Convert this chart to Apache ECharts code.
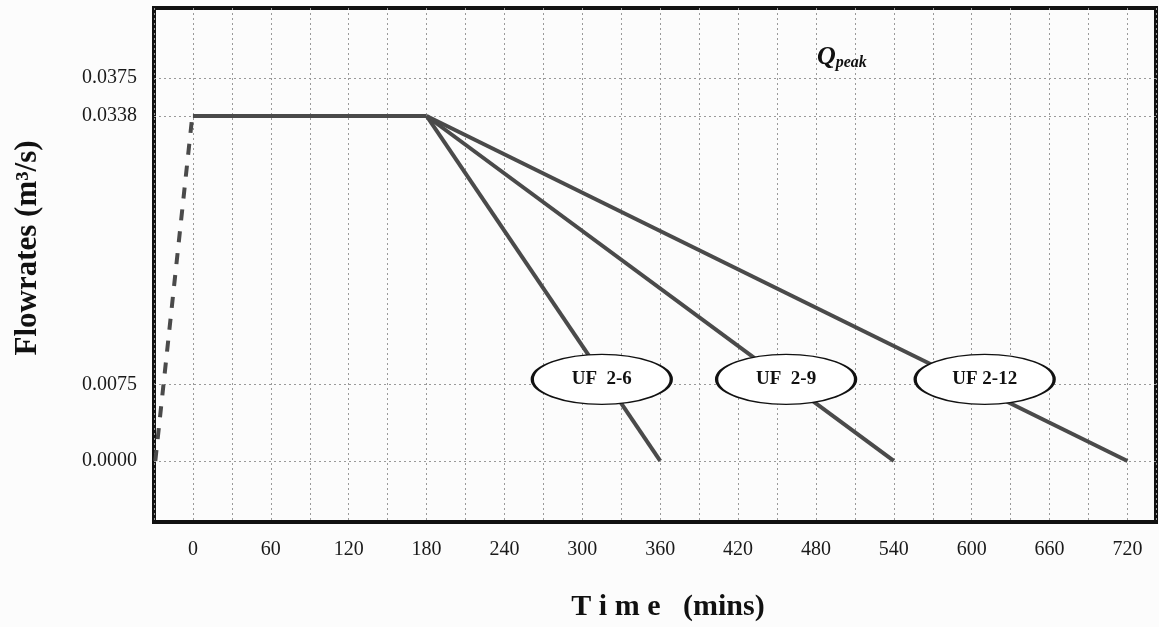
<!DOCTYPE html>
<html>
<head>
<meta charset="utf-8">
<script src="https://cdn.jsdelivr.net/npm/echarts@6/dist/echarts.min.js"></script>
<style>
  html, body { margin: 0; padding: 0; background: #fcfcfc; }
  #chart { width: 1159px; height: 627px; }
</style>
</head>
<body>
<div id="chart"></div>
<script>
// ---- data ----
const rampTime = [-29, -1];            // dashed rising limb (mins)
const rampFlow = [0.0, 0.0332];        // m3/s
const plateauTime = [0, 180];
const plateauFlow = [0.0338, 0.0338];
const recessionStartTime = 180;
const recessionStartFlow = 0.0338;
const recessionEndTime = [360, 540, 720];
const recessionEndFlow = [0.0, 0.0, 0.0];
const yTickValues = [0.0, 0.0075, 0.0338, 0.0375];
const xLabelStep = 60;
const ufNames = ['UF  2-6', 'UF  2-9', 'UF 2-12'];
const ufTime = [315, 457, 610];
const ufFlow = [0.0080, 0.0080, 0.0080];
const peakName = 'Qpeak';
const peakTime = [500];
const peakFlowPos = [0.0396];

const FONT = 'Liberation Serif, Times New Roman, serif';
const LINE_COLOR = '#4a4a4a';

const series = [];
series.push({
  type: 'line', name: 'rising', symbol: 'none',
  data: rampTime.map((t, i) => [t, rampFlow[i]]),
  lineStyle: { color: LINE_COLOR, width: 4, type: [11, 11] }
});
series.push({
  type: 'line', name: 'peak', symbol: 'none',
  data: plateauTime.map((t, i) => [t, plateauFlow[i]]),
  lineStyle: { color: LINE_COLOR, width: 4 }
});
recessionEndTime.forEach((t, i) => {
  series.push({
    type: 'line', name: ufNames[i], symbol: 'none',
    data: [[recessionStartTime, recessionStartFlow], [t, recessionEndFlow[i]]],
    lineStyle: { color: LINE_COLOR, width: 4 }
  });
});
series.push({
  type: 'scatter', name: 'labels', z: 10,
  symbol: 'path://M0,25A69.5,25 0 1,1 139,25A69.5,25 0 1,1 0,25Z',
  symbolSize: [139, 50],
  itemStyle: { color: '#ffffff', borderColor: '#111111', borderWidth: 2, opacity: 1 },
  label: {
    show: true, position: 'inside',
    formatter: p => ufNames[p.dataIndex],
    fontFamily: FONT, fontWeight: 'bold', fontSize: 19, color: '#111111'
  },
  emphasis: { disabled: true },
  data: ufTime.map((t, i) => [t, ufFlow[i]])
});
series.push({
  type: 'scatter', name: 'peakLabel', z: 10,
  symbolSize: 1,
  itemStyle: { color: 'rgba(0,0,0,0)', opacity: 1 },
  label: {
    show: true, position: 'inside', color: '#111111', opacity: 1,
    formatter: '{q|Q}{p|peak}',
    rich: {
      q: { fontFamily: FONT, fontWeight: 'bold', fontStyle: 'italic', fontSize: 26, color: '#111111' },
      p: { fontFamily: FONT, fontWeight: 'bold', fontStyle: 'italic', fontSize: 16, color: '#111111', padding: [12, 0, 0, 0] }
    }
  },
  emphasis: { disabled: true },
  data: peakTime.map((t, i) => [t, peakFlowPos[i]])
});

const chart = echarts.init(document.getElementById('chart'));
chart.setOption({
  backgroundColor: '#fcfcfc',
  animation: false,
  grid: {
    left: 154, right: 2, top: 8, bottom: 105,
    show: true, borderColor: '#111111', borderWidth: 4, backgroundColor: 'transparent'
  },
  xAxis: {
    type: 'value', min: -30, max: 742, interval: 30,
    axisLine: { show: false }, axisTick: { show: false },
    axisLabel: {
      margin: 18, fontFamily: FONT, fontSize: 20, color: '#1a1a1a',
      formatter: v => (v >= 0 && v % xLabelStep === 0) ? String(v) : ''
    },
    splitLine: { show: true, lineStyle: { color: '#9a9a9a', type: [2, 3], width: 1 } },
    name: 'T i m e   (mins)', nameLocation: 'middle', nameGap: 70,
    nameTextStyle: { fontFamily: FONT, fontWeight: 'bold', fontSize: 30, color: '#111', padding: [0, 0, 0, 26] }
  },
  yAxis: {
    type: 'value', min: -0.00598, max: 0.04438,
    axisLine: { show: false },
    axisTick: { show: false, customValues: yTickValues },
    axisLabel: {
      customValues: yTickValues, margin: 17,
      fontFamily: FONT, fontSize: 20, color: '#1a1a1a',
      formatter: v => v.toFixed(4)
    },
    splitLine: { show: true, lineStyle: { color: '#9a9a9a', type: [2, 3], width: 1 } }
  },
  graphic: [{
    type: 'text', x: 28, y: 248, rotation: Math.PI / 2,
    style: {
      text: 'Flowrates (m³/s)', font: 'bold 31px ' + FONT, fill: '#111',
      textAlign: 'center', textVerticalAlign: 'middle', align: 'center', verticalAlign: 'middle'
    }
  }],
  series: series
});
</script>
</body>
</html>
